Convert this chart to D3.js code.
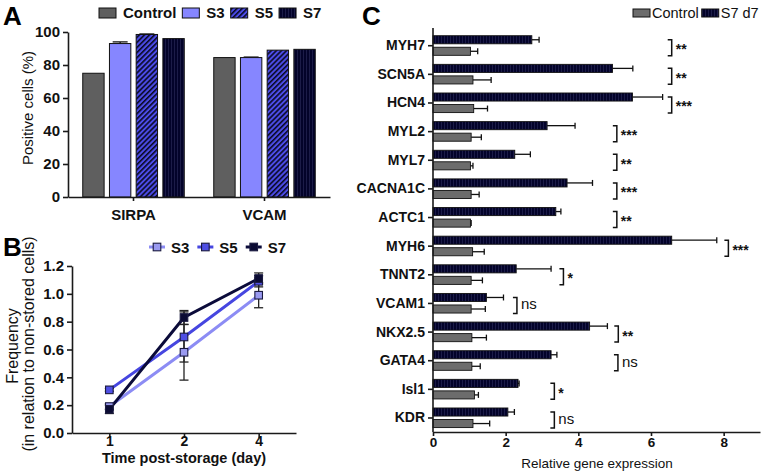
<!DOCTYPE html>
<html><head><meta charset="utf-8">
<script src="https://cdn.jsdelivr.net/npm/d3@7"></script>
<style>
body{margin:0;background:#fff}
svg{display:block;font-family:"Liberation Sans",Arial,Helvetica,sans-serif}
</style>
</head><body>
<svg id="c" width="762" height="474"></svg>
<script>
// ---------- Panel A data ----------
const aGroups = ["SIRPA", "VCAM"];
const aSeries = ["Control", "S3", "S5", "S7"];
const aControl = [75, 84.5];
const aS3 = [93, 84.5];
const aS5 = [98.5, 89];
const aS7 = [96, 89.5];
const aControlErr = [0, 0];
const aS3Err = [1, 0.3];
const aS5Err = [0.3, 0];
const aS7Err = [0, 0];
const aTicks = [0, 20, 40, 60, 80, 100];

// ---------- Panel B data ----------
const bDays = ["1", "2", "4"];
const bSeries = ["S3", "S5", "S7"];
const bS3 = [0.19, 0.58, 0.99];
const bS3Err = [0.02, 0.2, 0.09];
const bS5 = [0.31, 0.69, 1.09];
const bS5Err = [0.01, 0.18, 0.04];
const bS7 = [0.17, 0.83, 1.11];
const bS7Err = [0.03, 0.05, 0.04];
const bTicks = [0, 0.2, 0.4, 0.6, 0.8, 1.0, 1.2];

// ---------- Panel C data ----------
const cGenes = ["MYH7","SCN5A","HCN4","MYL2","MYL7","CACNA1C","ACTC1","MYH6","TNNT2","VCAM1","NKX2.5","GATA4","Isl1","KDR"];
const cSeries = ["Control", "S7 d7"];
const cS7 =      [2.72, 4.94, 5.49, 3.14, 2.25, 3.69, 3.38, 6.57, 2.29, 1.47, 4.31, 3.25, 2.34, 2.06];
const cS7Err =   [0.20, 0.56, 0.83, 0.77, 0.43, 0.70, 0.14, 1.24, 0.96, 0.47, 0.49, 0.16, 0.03, 0.18];
const cControl = [1.03, 1.10, 1.12, 1.05, 1.03, 1.05, 1.03, 1.09, 1.05, 1.05, 1.07, 1.07, 1.14, 1.10];
const cControlErr=[0.20, 0.50, 0.38, 0.28, 0.07, 0.22, 0.02, 0.32, 0.31, 0.39, 0.40, 0.23, 0.11, 0.46];
const cSig =     ["**","**","***","***","**","***","**","***","*","ns","**","ns","*","ns"];
const cBracketAt=[6.57, 6.57, 6.57, 5.06, 5.06, 5.06, 5.06, 8.13, 3.59, 2.31, 5.10, 5.09, 3.34, 3.34];
const cTicks = [0, 2, 4, 6, 8];

// ---------- common ----------
const svg = d3.select("#c");
const AX = "#1a1a1a";
const defs = svg.append("defs");
const hatch = defs.append("pattern").attr("id","hatch").attr("patternUnits","userSpaceOnUse")
  .attr("width",3.6).attr("height",3.6).attr("patternTransform","rotate(45)");
hatch.append("rect").attr("width",3.6).attr("height",3.6).attr("fill","#4c4ce8");
hatch.append("rect").attr("width",1.6).attr("height",3.6).attr("fill","#0a0a26");
const dark = defs.append("pattern").attr("id","dark").attr("patternUnits","userSpaceOnUse")
  .attr("width",3).attr("height",4);
dark.append("rect").attr("width",3).attr("height",4).attr("fill","#03032a");
dark.append("rect").attr("width",1).attr("height",4).attr("fill","#1c1c48");

function styleAxis(g, fs, weight){
  g.select(".domain").attr("stroke",AX).attr("stroke-width",1.6);
  g.selectAll(".tick line").attr("stroke",AX).attr("stroke-width",1.6);
  g.selectAll(".tick text").attr("fill","#111").attr("font-size",fs).attr("font-weight",weight||"bold")
    .attr("font-family",'"Liberation Sans",Arial,sans-serif');
}

// ================= Panel A =================
const aFill = {Control:"#5f5f5f", S3:"#8686ff", S5:"url(#hatch)", S7:"url(#dark)"};
const aVals = {Control:aControl, S3:aS3, S5:aS5, S7:aS7};
const aErrs = {Control:aControlErr, S3:aS3Err, S5:aS5Err, S7:aS7Err};
const xA = d3.scaleBand().domain(aGroups).range([68,330]);
const xAi = d3.scaleBand().domain(aSeries).range([14.75,116.25]).paddingInner(0.2);
const yA = d3.scaleLinear().domain([0,100]).range([197,32]);

const gA = svg.append("g");
aGroups.forEach((grp,gi)=>{
  aSeries.forEach(s=>{
    const v = aVals[s][gi], e = aErrs[s][gi];
    const x0 = xA(grp)+xAi(s), w = xAi.bandwidth();
    if(e>0){
      gA.append("line").attr("x1",x0+w/2).attr("x2",x0+w/2).attr("y1",yA(v)).attr("y2",yA(v+e)).attr("stroke","#111").attr("stroke-width",1.3);
      gA.append("line").attr("x1",x0+w*0.15).attr("x2",x0+w*0.85).attr("y1",yA(v+e)).attr("y2",yA(v+e)).attr("stroke","#111").attr("stroke-width",1.3);
    }
    gA.append("rect").attr("x",x0).attr("y",yA(v)).attr("width",w).attr("height",yA(0)-yA(v))
      .attr("fill",aFill[s]).attr("stroke","#111").attr("stroke-width",1);
  });
});
const ayAxis = gA.append("g").attr("transform","translate(68,0)")
  .call(d3.axisLeft(yA).tickValues(aTicks).tickSize(5).tickSizeOuter(0).tickPadding(3));
styleAxis(ayAxis,15);
const axAxis = gA.append("g").attr("transform","translate(0,197)")
  .call(d3.axisBottom(xA).tickSize(4).tickSizeOuter(0).tickPadding(8));
styleAxis(axAxis,15);
gA.append("text").attr("transform","translate(33,108) rotate(-90)").attr("text-anchor","middle")
  .attr("font-size",15).attr("fill","#111").text("Positive cells (%)");
svg.append("text").attr("x",3).attr("y",25).attr("font-size",26).attr("font-weight","bold").text("A");
// legend A
{
  let x = 99;
  aSeries.forEach(s=>{
    gA.append("rect").attr("x",x).attr("y",8).attr("width",17).attr("height",10)
      .attr("fill",aFill[s]).attr("stroke","#111").attr("stroke-width",1);
    const t = gA.append("text").attr("x",x+24).attr("y",18).attr("font-size",15).attr("font-weight","bold")
      .attr("fill","#111").text(s);
    x += 24 + t.node().getComputedTextLength() + 6;
  });
}

// ================= Panel B =================
const bVals = {S3:bS3, S5:bS5, S7:bS7};
const bErrs = {S3:bS3Err, S5:bS5Err, S7:bS7Err};
const bLine = {S3:"#8c8cf4", S5:"#4646e0", S7:"#0b0b3a"};
const bMark = {S3:"#9a9af0", S5:"#4f4fe4", S7:"#0b0b33"};
const xB = d3.scalePoint().domain(bDays).range([72,296]).padding(0.5);
const yB = d3.scaleLinear().domain([0,1.2]).range([433,266]);
const gB = svg.append("g");
const lineGen = d3.line().x((d,i)=>xB(bDays[i])).y(d=>yB(d));
bSeries.forEach(s=>{
  gB.append("path").attr("d",lineGen(bVals[s])).attr("fill","none").attr("stroke",bLine[s]).attr("stroke-width",3);
});
bSeries.forEach(s=>{
  bVals[s].forEach((v,i)=>{
    const e = bErrs[s][i], x = xB(bDays[i]);
    gB.append("line").attr("x1",x).attr("x2",x).attr("y1",yB(v-e)).attr("y2",yB(v+e)).attr("stroke","#222").attr("stroke-width",1.3);
    [v-e,v+e].forEach(c=>gB.append("line").attr("x1",x-4.5).attr("x2",x+4.5).attr("y1",yB(c)).attr("y2",yB(c)).attr("stroke","#222").attr("stroke-width",1.3));
  });
});
bSeries.forEach(s=>{
  bVals[s].forEach((v,i)=>{
    gB.append("rect").attr("x",xB(bDays[i])-3.8).attr("y",yB(v)-3.8).attr("width",7.6).attr("height",7.6)
      .attr("fill",bMark[s]).attr("stroke","#1a1a40").attr("stroke-width",1.1);
  });
});
const byAxis = gB.append("g").attr("transform","translate(72,0)")
  .call(d3.axisLeft(yB).tickValues(bTicks).tickFormat(d3.format(".1f")).tickSize(5).tickSizeOuter(0).tickPadding(3));
styleAxis(byAxis,15);
const bxAxis = gB.append("g").attr("transform","translate(0,433)")
  .call(d3.axisBottom(xB).tickSize(5).tickSizeOuter(0).tickPadding(1));
styleAxis(bxAxis,14);
bxAxis.selectAll(".tick text").attr("y",3);
gB.append("text").attr("x",184).attr("y",463).attr("text-anchor","middle").attr("font-size",14.5)
  .attr("font-weight","bold").attr("fill","#111").text("Time post-storage (day)");
gB.append("text").attr("transform","translate(18,346) rotate(-90)").attr("text-anchor","middle")
  .attr("font-size",16).attr("fill","#111").text("Frequency");
gB.append("text").attr("transform","translate(34,344) rotate(-90)").attr("text-anchor","middle")
  .attr("font-size",16).attr("fill","#111").text("(in relation to non-stored cells)");
svg.append("text").attr("x",3).attr("y",256).attr("font-size",26).attr("font-weight","bold").text("B");
// legend B
{
  let x = 157;
  bSeries.forEach(s=>{
    gB.append("line").attr("x1",x-8).attr("x2",x+8).attr("y1",247).attr("y2",247).attr("stroke",bLine[s]).attr("stroke-width",3);
    gB.append("rect").attr("x",x-3.8).attr("y",243.2).attr("width",7.6).attr("height",7.6)
      .attr("fill",bMark[s]).attr("stroke","#1a1a40").attr("stroke-width",1.1);
    const t = gB.append("text").attr("x",x+14).attr("y",252.5).attr("font-size",15).attr("font-weight","bold")
      .attr("fill","#111").text(s);
    x += 14 + t.node().getComputedTextLength() + 16;
  });
}

// ================= Panel C =================
const xC = d3.scaleLinear().domain([0,9]).range([433,760]);
const yC = d3.scaleBand().domain(cGenes).range([31.4,432.3]);
const yCi = d3.scaleBand().domain(["S7 d7","Control"]).range([-10,9.6]).paddingInner(0.3);
const cFill = {"Control":"#6c6c6c","S7 d7":"url(#dark)"};
const gC = svg.append("g");
cGenes.forEach((gene,i)=>{
  const cy = yC(gene)+yC.bandwidth()/2;
  [["S7 d7",cS7[i],cS7Err[i]],["Control",cControl[i],cControlErr[i]]].forEach(([s,v,e])=>{
    const y0 = cy + yCi(s), h = yCi.bandwidth();
    gC.append("line").attr("x1",xC(v)).attr("x2",xC(v+e)).attr("y1",y0+h/2).attr("y2",y0+h/2).attr("stroke","#111").attr("stroke-width",1.3);
    gC.append("line").attr("x1",xC(v+e)).attr("x2",xC(v+e)).attr("y1",y0+h/2-3).attr("y2",y0+h/2+3).attr("stroke","#111").attr("stroke-width",1.3);
    gC.append("rect").attr("x",xC(0)).attr("y",y0).attr("width",xC(v)-xC(0)).attr("height",h)
      .attr("fill",cFill[s]).attr("stroke","#111").attr("stroke-width",0.9);
  });
  // significance bracket
  const bx = xC(cBracketAt[i]), top = cy-6, bot = cy+10;
  gC.append("path").attr("d",`M${bx-4},${top}H${bx}V${bot}H${bx-4}`).attr("fill","none").attr("stroke","#111").attr("stroke-width",1.5);
  const mid = (top+bot)/2;
  gC.append("text").attr("x",bx+4).attr("y", cSig[i]==="ns" ? mid+4 : mid+6.5)
    .attr("font-size", cSig[i]==="ns" ? 15 : 14).attr("font-weight", cSig[i]==="ns" ? "normal" : "bold")
    .attr("fill","#111").text(cSig[i]);
});
const cyAxis = gC.append("g").attr("transform","translate(433,0)")
  .call(d3.axisLeft(yC).tickSize(5).tickSizeOuter(0).tickPadding(3));
cyAxis.select(".domain").remove();
styleAxis(cyAxis,14);
gC.append("line").attr("x1",433).attr("x2",433).attr("y1",28).attr("y2",432).attr("stroke",AX).attr("stroke-width",1.6);
const cxAxis = gC.append("g").attr("transform","translate(0,432)")
  .call(d3.axisBottom(xC).tickValues(cTicks).tickSize(4).tickSizeOuter(0).tickPadding(1));
styleAxis(cxAxis,13.5);
gC.append("text").attr("x",597).attr("y",468).attr("text-anchor","middle").attr("font-size",13.5)
  .attr("fill","#111").text("Relative gene expression");
svg.append("text").attr("x",362).attr("y",25).attr("font-size",26).attr("font-weight","bold").text("C");
// legend C
{
  let x = 633;
  cSeries.forEach(s=>{
    gC.append("rect").attr("x",x).attr("y",9).attr("width",17).attr("height",8)
      .attr("fill",cFill[s]).attr("stroke","#111").attr("stroke-width",1);
    const t = gC.append("text").attr("x",x+19).attr("y",17.5).attr("font-size",14.5)
      .attr("fill","#111").text(s);
    x += 19 + t.node().getComputedTextLength() + 3;
  });
}
</script>
</body></html>
